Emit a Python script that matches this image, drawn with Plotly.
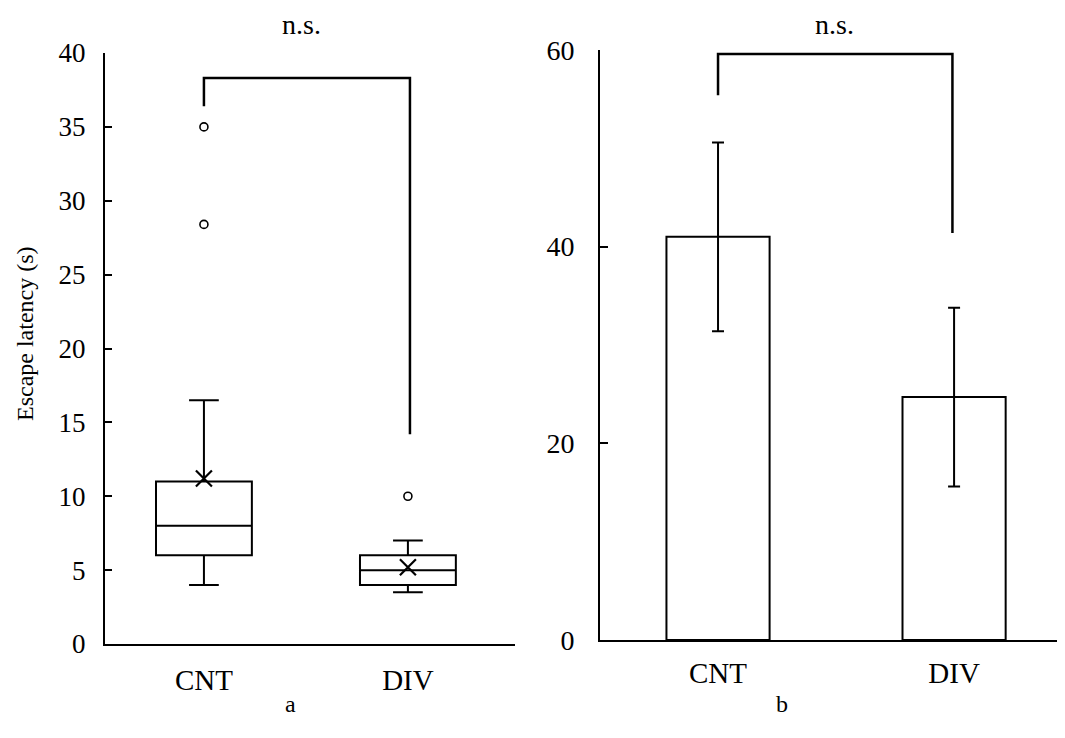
import plotly.graph_objects as go

# ---- data ----
groups = ["CNT", "DIV"]
group_pos = [1, 2]

# panel a: box plot stats (Escape latency, s)
box_q1 = [6.0, 4.0]
box_median = [8.0, 5.0]
box_q3 = [11.0, 6.0]
box_low = [4.0, 3.5]
box_high = [16.5, 7.0]
box_mean = [11.2, 5.2]
outlier_x = [1, 1, 2]
outlier_y = [35.0, 28.4, 10.0]

# panel b: bar means with error
bar_mean = [41.0, 24.7]
bar_err = [9.6, 9.1]

# significance brackets
bracket_a_x = [1, 1, 2.01, 2.01]
bracket_a_y = [36.4, 38.3, 38.3, 14.2]
bracket_b_x = [1, 1, 1.993, 1.993]
bracket_b_y = [55.4, 59.6, 59.6, 41.4]

left_ticks = [0, 5, 10, 15, 20, 25, 30, 35, 40]
right_ticks = [0, 20, 40, 60]

OFF = 8  # page body margin
W, H = 1065 - 2 * OFF, 738 - 2 * OFF
FONT = "Liberation Serif"


def px(x):
    return (x - OFF) / W


def py(y):
    return 1 - (y - OFF) / H


fig = go.Figure()

for i, g in enumerate(groups):
    fig.add_trace(go.Box(
        x=[group_pos[i]], q1=[box_q1[i]], median=[box_median[i]], q3=[box_q3[i]],
        lowerfence=[box_low[i]], upperfence=[box_high[i]],
        width=0.47, whiskerwidth=0.31, boxpoints=False,
        fillcolor="white", line=dict(color="black", width=2),
        xaxis="x", yaxis="y", showlegend=False, hoverinfo="skip"))

fig.add_trace(go.Scatter(
    x=group_pos, y=box_mean, mode="markers", xaxis="x", yaxis="y",
    marker=dict(symbol="x-thin", size=16, line=dict(color="black", width=2.2), color="black"),
    showlegend=False))

fig.add_trace(go.Scatter(
    x=outlier_x, y=outlier_y, mode="markers", xaxis="x", yaxis="y",
    marker=dict(symbol="circle-open", size=8, line=dict(color="black", width=1.6), color="black"),
    showlegend=False))

fig.add_trace(go.Scatter(
    x=bracket_a_x, y=bracket_a_y, mode="lines", xaxis="x", yaxis="y",
    line=dict(color="black", width=2.5), showlegend=False, cliponaxis=False))

fig.add_trace(go.Bar(
    x=group_pos, y=bar_mean, width=0.437, xaxis="x2", yaxis="y2",
    marker=dict(color="white", line=dict(color="black", width=2)),
    error_y=dict(type="data", array=bar_err, visible=True, color="black", thickness=2, width=6),
    showlegend=False))

fig.add_trace(go.Scatter(
    x=bracket_b_x, y=bracket_b_y, mode="lines", xaxis="x2", yaxis="y2",
    line=dict(color="black", width=2.5), showlegend=False, cliponaxis=False))

axis_common = dict(showgrid=False, zeroline=False, showline=True, linecolor="black",
                   linewidth=2, automargin=False)

fig.update_layout(
    width=W, height=H,
    margin=dict(l=0, r=0, t=0, b=0, autoexpand=False),
    paper_bgcolor="white", plot_bgcolor="white",
    font=dict(family=FONT, color="black"),
    xaxis=dict(domain=[px(105), px(515)], range=[0.515, 2.525],
               tickvals=group_pos, ticktext=groups, ticks="",
               tickfont=dict(size=29), ticklabelstandoff=9, anchor="y", **axis_common),
    yaxis=dict(domain=[py(644), py(53)], range=[0, 40],
               tickvals=left_ticks, ticks="inside", ticklen=7, tickwidth=2, tickcolor="black",
               tickfont=dict(size=27), ticklabelstandoff=12, anchor="x", **axis_common),
    xaxis2=dict(domain=[px(600), 1.0], range=[0.5, 2.436],
                tickvals=group_pos, ticktext=groups, ticks="",
                tickfont=dict(size=29), ticklabelstandoff=6, anchor="y2", **axis_common),
    yaxis2=dict(domain=[py(640), py(50)], range=[0, 60],
                tickvals=right_ticks, ticks="inside", ticklen=8, tickwidth=2, tickcolor="black",
                tickfont=dict(size=28), ticklabelstandoff=18, anchor="x2", **axis_common),
)

annotations = [
    dict(text="n.s.", x=px(301), y=1.0, yanchor="top", font=dict(size=28)),
    dict(text="n.s.", x=px(834), y=1.0, yanchor="top", font=dict(size=28)),
    dict(text="a", x=px(290), y=py(704), yanchor="middle", font=dict(size=24)),
    dict(text="b", x=px(782), y=py(704), yanchor="middle", font=dict(size=24)),
    dict(text="Escape latency (s)", x=px(25), y=py(334), yanchor="middle", textangle=-90,
         font=dict(size=24)),
]
for a in annotations:
    a.update(xref="paper", yref="paper", showarrow=False, xanchor="center", borderpad=0)
fig.update_layout(annotations=annotations)

fig.write_html("out.html")
